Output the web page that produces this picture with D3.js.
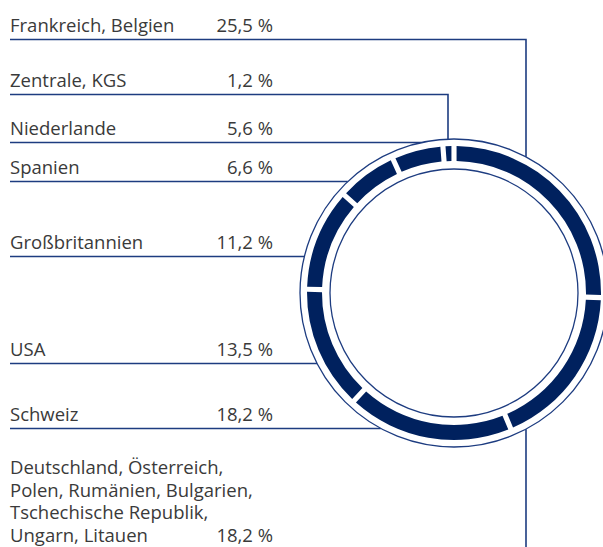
<!DOCTYPE html>
<html>
<head>
<meta charset="utf-8">
<script src="https://cdn.jsdelivr.net/npm/d3@7/dist/d3.min.js"></script>
<style>
 body { margin: 0; background: #fff; }
 svg { display: block; }
 .lbl { font-family: "Open Sans", sans-serif; font-size: 18.5px; font-weight: 500; fill: #3a3a3a; }
</style>
</head>
<body>
<svg id="chart" width="603" height="547"></svg>
<script>
 // labels top to bottom, as shown on the left
 var regions = [
     ["Frankreich, Belgien"],
     ["Zentrale, KGS"],
     ["Niederlande"],
     ["Spanien"],
     ["Großbritannien"],
     ["USA"],
     ["Schweiz"],
     ["Deutschland, Österreich,", "Polen, Rumänien, Bulgarien,", "Tschechische Republik,", "Ungarn, Litauen"]
 ];
 var shares = [25.5, 1.2, 5.6, 6.6, 11.2, 13.5, 18.2, 18.2];
 // clockwise from 12 o'clock, index into the arrays above
 var ringOrder = [0, 7, 6, 5, 4, 3, 2, 1];

 // layout
 var lineY = [39.5, 94.5, 142.5, 181.5, 256.5, 363.5, 428.5, 553];
 var elbowX = [526, 448, null, null, null, null, null, 526];
 var cx = 454, cy = 293, rOuter = 154, rInner = 124;
 var ringIn = 132, ringOut = 147;
 var navy = "#00215e", lineCol = "#1d3c80";

 var svg = d3.select("#chart");
 var fmt = function(v){ return d3.format(".1f")(v).replace(".", ",") + " %"; };

 // leader lines
 var lines = svg.append("g").attr("fill", "none").attr("stroke", lineCol).attr("stroke-width", 1.6);
 regions.forEach(function(r, i){
     var y = lineY[i], pts;
     if (elbowX[i] != null) {
         var dx = elbowX[i] - cx;
         var dy = Math.sqrt(rOuter*rOuter - dx*dx);
         var yEnd = y < cy ? cy - dy : cy + dy;
         pts = [[10, y], [elbowX[i], y], [elbowX[i], yEnd]];
     } else {
         var ddy = y - cy;
         pts = [[10, y], [cx - Math.sqrt(rOuter*rOuter - ddy*ddy), y]];
     }
     lines.append("path").attr("d", d3.line()(pts));
 });

 // labels
 var lg = svg.append("g").attr("class", "lbl");
 regions.forEach(function(r, i){
     var base = lineY[i] - 8;
     if (r.length > 1) base = 474;
     var t = lg.append("text").attr("x", 10).attr("y", base);
     r.forEach(function(s, k){
         t.append("tspan").attr("x", 10).attr("y", base + k*22.7).text(s);
     });
     lg.append("text").attr("x", 273).attr("y", base + (r.length-1)*22.7)
       .attr("text-anchor", "end").text(fmt(shares[i]));
 });

 // ring
 var g = svg.append("g").attr("transform", "translate(" + cx + "," + cy + ")");
 g.append("circle").attr("r", rOuter).attr("fill", "#fff").attr("stroke", lineCol).attr("stroke-width", 1.3);
 g.append("circle").attr("r", rInner).attr("fill", "none").attr("stroke", lineCol).attr("stroke-width", 1.3);

 var pie = d3.pie().sort(null).value(function(i){ return shares[i]; });
 var arc = d3.arc().innerRadius(ringIn).outerRadius(ringOut).padAngle(0.026);
 g.selectAll("path.seg").data(pie(ringOrder)).enter().append("path")
  .attr("class", "seg").attr("d", arc).attr("fill", navy);
</script>
</body>
</html>
